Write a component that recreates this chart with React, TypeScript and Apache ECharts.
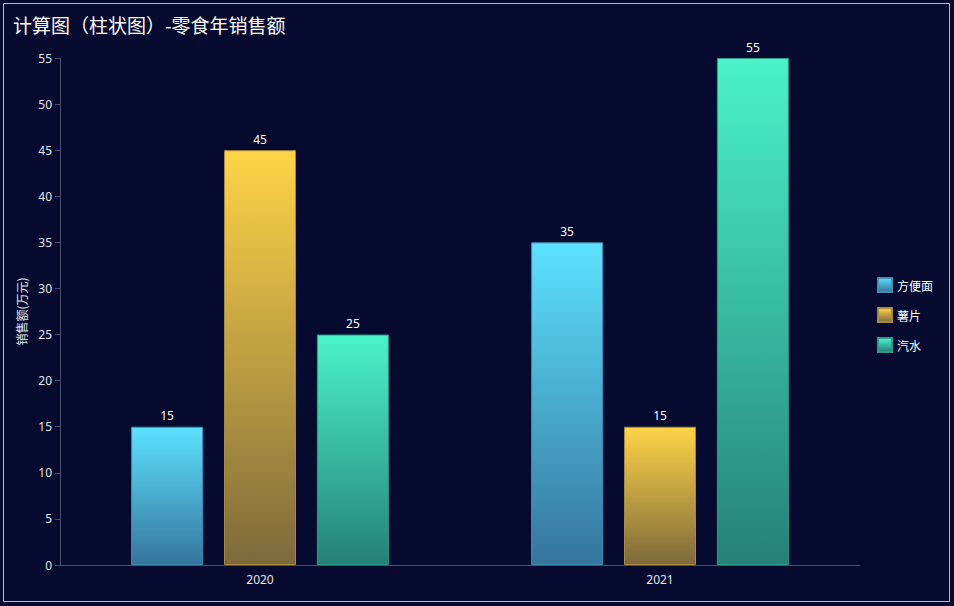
import React, { useEffect, useRef } from "react";
import * as echarts from "echarts";

const categories = ["2020", "2021"];
const seriesNames = ["方便面", "薯片", "汽水"];
const noodles = [15, 35];
const chips = [45, 15];
const soda = [25, 55];
const titleText = "计算图（柱状图）-零食年销售额";
const yName = "销售额(万元)";

const grad = (top: string, bottom: string) =>
  new echarts.graphic.LinearGradient(0, 0, 0, 1, [
    { offset: 0, color: top },
    { offset: 1, color: bottom },
  ]);

export default function App() {
  const ref = useRef<HTMLDivElement>(null);
  useEffect(() => {
    if (!ref.current) return;
    const chart = echarts.init(ref.current, undefined, { renderer: "svg" });
    const styles = [
      { top: "#5ce1ff", bottom: "#35759c", border: "#3f8fb5" },
      { top: "#ffd447", bottom: "#7d6a3b", border: "#a88a3a" },
      { top: "#4af3ca", bottom: "#25807a", border: "#2c9a86" },
    ];
    const datas = [noodles, chips, soda];
    chart.setOption({
      animation: false,
      backgroundColor: "#050a2e",
      textStyle: { fontFamily: "'Noto Sans', 'Noto Sans CJK SC', sans-serif" },
      title: {
        text: titleText,
        left: 8,
        top: 10,
        textStyle: {
          color: "#ffffff",
          fontSize: 19,
          fontWeight: "normal",
          fontFamily: "'Noto Sans CJK SC', sans-serif",
        },
      },
      graphic: [
        {
          type: "rect",
          shape: { x: 3.5, y: 3.5, width: 946, height: 598 },
          style: { fill: "none", stroke: "#b8bac4", lineWidth: 1 },
          silent: true,
        },
      ],
      legend: {
        orient: "vertical",
        left: 872,
        top: 272,
        icon: "rect",
        itemWidth: 14,
        itemHeight: 14,
        itemGap: 14,
        textStyle: {
          color: "#ffffff",
          fontSize: 12,
          lineHeight: 14,
          fontFamily: "'Noto Sans CJK SC', sans-serif",
        },
        data: seriesNames,
      },
      grid: { left: 60, right: 94, top: 58, bottom: 41 },
      xAxis: {
        type: "category",
        data: categories,
        axisLine: { lineStyle: { color: "#4a4f6e" } },
        axisTick: { alignWithLabel: true, lineStyle: { color: "#4a4f6e" } },
        axisLabel: { color: "#e6e6e6", fontSize: 12, margin: 8 },
      },
      yAxis: {
        type: "value",
        min: 0,
        max: 55,
        interval: 5,
        name: yName,
        nameLocation: "middle",
        nameGap: 32,
        nameTextStyle: {
          color: "#e6e6e6",
          fontSize: 12,
          fontFamily: "'Noto Sans CJK SC', sans-serif",
        },
        axisLine: { show: true, lineStyle: { color: "#4a4f6e" } },
        axisTick: { show: true, lineStyle: { color: "#4a4f6e" } },
        axisLabel: { color: "#e6e6e6", fontSize: 12 },
        splitLine: { show: false },
      },
      series: seriesNames.map((name, i) => ({
        name,
        type: "bar",
        data: datas[i],
        barWidth: 72,
        barGap: "29%",
        itemStyle: {
          color: grad(styles[i].top, styles[i].bottom),
          borderColor: styles[i].border,
          borderWidth: 1,
        },
        label: {
          show: true,
          position: "top",
          color: "#ffffff",
          fontSize: 12,
          distance: 5,
        },
      })),
    });
    return () => chart.dispose();
  }, []);
  return (
    <div
      ref={ref}
      style={{ position: "fixed", left: 0, top: 0, width: 954, height: 606 }}
    />
  );
}
